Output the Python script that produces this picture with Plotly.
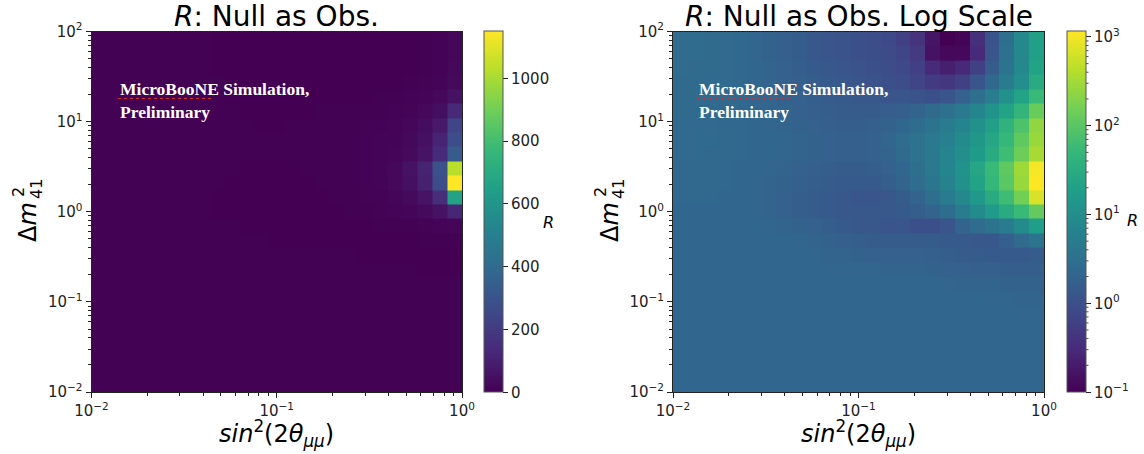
import numpy as np
import plotly.graph_objects as go

# bin edges (log-spaced grid, 25 x 25)
sin2_edges = np.logspace(-2, 0, 26)
dm2_edges = np.logspace(-2, 2, 26)

# R values, one list per dm2 row (bottom row first), 25 sin2 columns each
r00 = [2.2, 2.2, 2.2, 2.2, 2.2, 2.2, 2.2, 2.2, 2.2, 2.2, 2.2, 2.2, 2.2, 2.2, 2.2, 2.2, 2.2, 2.2, 2.2, 2.2, 2.2, 2.2, 2.2, 2.2, 2.2]
r01 = [2.2, 2.2, 2.2, 2.2, 2.2, 2.2, 2.2, 2.2, 2.2, 2.2, 2.2, 2.2, 2.2, 2.2, 2.2, 2.2, 2.2, 2.2, 2.2, 2.2, 2.2, 2.2, 2.2, 2.2, 2.2]
r02 = [2.2, 2.2, 2.2, 2.2, 2.2, 2.2, 2.2, 2.2, 2.2, 2.2, 2.2, 2.2, 2.2, 2.2, 2.2, 2.2, 2.2, 2.2, 2.2, 2.2, 2.2, 2.2, 2.2, 2.2, 2.2]
r03 = [2.2, 2.2, 2.2, 2.2, 2.2, 2.2, 2.2, 2.2, 2.2, 2.2, 2.2, 2.2, 2.2, 2.2, 2.2, 2.2, 2.2, 2.2, 2.2, 2.2, 2.2, 2.2, 2.2, 2.2, 2.2]
r04 = [2.2, 2.2, 2.2, 2.2, 2.2, 2.2, 2.2, 2.2, 2.2, 2.2, 2.2, 2.2, 2.2, 2.2, 2.2, 2.2, 2.2, 2.2, 2.2, 2.2, 2.2, 2.2, 2.2, 2.2, 2.2]
r05 = [2.2, 2.2, 2.2, 2.2, 2.2, 2.2, 2.2, 2.2, 2.2, 2.2, 2.2, 2.2, 2.2, 2.2, 2.2, 2.2, 2.2, 2.2, 2.2, 2.2, 2.2, 2.2, 2.2, 2.1, 2.1]
r06 = [2.2, 2.2, 2.2, 2.2, 2.2, 2.2, 2.2, 2.2, 2.2, 2.2, 2.2, 2.2, 2.2, 2.2, 2.2, 2.2, 2.2, 2.2, 2.2, 2.2, 2.2, 2.1, 2.1, 2.0, 2.0]
r07 = [2.2, 2.2, 2.2, 2.2, 2.2, 2.2, 2.2, 2.2, 2.2, 2.2, 2.2, 2.2, 2.2, 2.2, 2.2, 2.2, 2.2, 2.2, 2.1, 2.0, 2.0, 2.0, 1.9, 1.9, 1.9]
r08 = [2.2, 2.2, 2.2, 2.2, 2.2, 2.2, 2.2, 2.2, 2.2, 2.2, 2.1, 2.1, 2.1, 2.1, 2.0, 2.0, 2.0, 1.9, 1.8, 1.8, 1.7, 1.7, 1.6, 1.6, 1.6]
r09 = [2.2, 2.2, 2.2, 2.2, 2.2, 2.2, 2.2, 2.2, 2.2, 2.1, 2.0, 2.0, 1.9, 1.8, 1.8, 1.8, 1.8, 1.7, 1.6, 1.5, 1.5, 1.4, 1.4, 1.4, 1.5]
r10 = [2.2, 2.2, 2.2, 2.2, 2.2, 2.2, 2.2, 2.2, 2.1, 2.0, 1.9, 1.7, 1.6, 1.5, 1.5, 1.5, 1.5, 1.5, 1.4, 1.4, 1.3, 1.3, 1.7, 2.5, 3.7]
r11 = [2.2, 2.2, 2.2, 2.2, 2.2, 2.2, 2.1, 2.0, 1.9, 1.8, 1.6, 1.4, 1.3, 1.3, 1.2, 1.2, 1.0, 1.0, 1.2, 2.0, 2.6, 3.5, 5.0, 9.0, 18.0]
r12 = [2.2, 2.2, 2.2, 2.2, 2.2, 2.1, 2.0, 1.8, 1.6, 1.5, 1.4, 1.3, 1.3, 1.3, 1.3, 1.4, 1.6, 2.0, 2.8, 5.0, 9.0, 16.0, 30.0, 55.0, 120.0]
r13 = [2.3, 2.3, 2.3, 2.2, 2.2, 2.1, 2.0, 1.8, 1.6, 1.5, 1.4, 1.3, 1.2, 1.2, 1.3, 1.5, 2.0, 3.0, 5.0, 8.0, 15.0, 30.0, 60.0, 150.0, 660.0]
r14 = [2.3, 2.3, 2.3, 2.3, 2.2, 2.1, 2.0, 1.9, 1.7, 1.6, 1.5, 1.4, 1.4, 1.4, 1.6, 2.0, 2.7, 4.0, 6.5, 11.0, 22.0, 50.0, 100.0, 270.0, 1150.0]
r15 = [2.3, 2.3, 2.3, 2.3, 2.2, 2.2, 2.1, 2.0, 1.8, 1.7, 1.6, 1.5, 1.5, 1.6, 1.8, 2.2, 3.0, 4.5, 7.0, 12.0, 25.0, 55.0, 110.0, 290.0, 1030.0]
r16 = [2.4, 2.4, 2.3, 2.3, 2.3, 2.2, 2.2, 2.1, 2.0, 1.9, 1.8, 1.7, 1.7, 1.8, 2.0, 2.5, 3.3, 4.5, 7.0, 10.0, 17.0, 30.0, 60.0, 140.0, 330.0]
r17 = [2.4, 2.4, 2.4, 2.3, 2.3, 2.2, 2.2, 2.1, 2.0, 1.9, 1.8, 1.7, 1.7, 1.8, 2.1, 2.6, 3.4, 4.5, 6.0, 9.0, 14.0, 25.0, 50.0, 110.0, 270.0]
r18 = [2.4, 2.4, 2.4, 2.3, 2.3, 2.2, 2.1, 2.0, 1.9, 1.8, 1.7, 1.6, 1.6, 1.7, 1.9, 2.2, 2.8, 3.7, 5.0, 7.0, 11.0, 20.0, 40.0, 80.0, 240.0]
r19 = [2.5, 2.4, 2.4, 2.3, 2.3, 2.2, 2.1, 2.0, 1.8, 1.7, 1.6, 1.5, 1.5, 1.5, 1.6, 1.7, 2.0, 2.5, 3.2, 4.5, 7.0, 12.0, 22.0, 45.0, 130.0]
r20 = [2.5, 2.5, 2.4, 2.4, 2.3, 2.2, 2.1, 1.9, 1.8, 1.6, 1.5, 1.4, 1.3, 1.3, 1.2, 1.2, 1.1, 1.0, 1.2, 1.8, 3.0, 5.5, 11.0, 22.0, 55.0]
r21 = [2.5, 2.5, 2.4, 2.4, 2.3, 2.2, 2.0, 1.8, 1.7, 1.5, 1.4, 1.3, 1.2, 1.1, 1.0, 0.9, 0.7, 0.5, 0.45, 0.6, 1.2, 2.3, 5.0, 10.0, 30.0]
r22 = [2.6, 2.5, 2.5, 2.4, 2.3, 2.2, 2.0, 1.8, 1.6, 1.4, 1.3, 1.2, 1.1, 1.0, 0.9, 0.8, 0.6, 0.3, 0.22, 0.28, 0.6, 1.5, 3.5, 8.0, 22.0]
r23 = [2.6, 2.6, 2.5, 2.4, 2.3, 2.1, 1.9, 1.7, 1.5, 1.3, 1.2, 1.1, 1.0, 0.95, 0.85, 0.7, 0.5, 0.16, 0.12, 0.12, 0.3, 1.2, 3.2, 8.0, 20.0]
r24 = [2.6, 2.6, 2.5, 2.4, 2.3, 2.1, 1.9, 1.7, 1.5, 1.3, 1.2, 1.1, 1.0, 0.9, 0.8, 0.6, 0.4, 0.17, 0.1, 0.11, 0.35, 1.1, 3.0, 8.0, 20.0]

R_rows = [r00, r01, r02, r03, r04, r05, r06, r07, r08, r09, r10, r11, r12,
          r13, r14, r15, r16, r17, r18, r19, r20, r21, r22, r23, r24]

lin_ticks = [0, 200, 400, 600, 800, 1000]
log_ticks = [-1, 0, 1, 2, 3]
log_ticktext = ["10<sup>\u22121</sup>", "10<sup>0</sup>", "10<sup>1</sup>", "10<sup>2</sup>", "10<sup>3</sup>"]
x_tickvals = [0.01, 0.1, 1]
x_ticktext = ["10<sup>\u22122</sup>", "10<sup>\u22121</sup>", "10<sup>0</sup>"]
y_tickvals = [0.01, 0.1, 1, 10, 100]
y_ticktext = ["10<sup>\u22122</sup>", "10<sup>\u22121</sup>", "10<sup>0</sup>", "10<sup>1</sup>", "10<sup>2</sup>"]

Z = np.array(R_rows, dtype=float)
zmax = Z.max()

W, H = 1144, 454
FONT = "DejaVu Sans"

def px(x):
    return x / W

def py(y):
    return 1 - y / H

top, bot = 31.5, 392.0
L1, R1 = 91.5, 462.0
L2, R2 = 673.0, 1044.0
CB1, CB2, CBW = 483.5, 1066.5, 19

cb_common = dict(
    xanchor="left", xpad=0, ypad=0,
    y=py((top + bot) / 2), yanchor="middle",
    len=(bot - top) / H, lenmode="fraction",
    thickness=CBW, thicknessmode="pixels",
    outlinewidth=1, outlinecolor="#555555",
    ticks="outside", ticklen=5, tickwidth=1, tickcolor="#222222",
    tickfont=dict(family=FONT, size=15, color="#222222"),
)

fig = go.Figure()
fig.add_trace(go.Heatmap(
    x=sin2_edges, y=dm2_edges, z=Z, colorscale="Viridis",
    zmin=0, zmax=zmax, xaxis="x", yaxis="y",
    colorbar=dict(x=px(CB1), tickmode="array", tickvals=lin_ticks,
                  ticktext=[str(v) for v in lin_ticks], **cb_common),
    hovertemplate="sin2=%{x}<br>dm2=%{y}<br>R=%{z}<extra></extra>",
))
fig.add_trace(go.Heatmap(
    x=sin2_edges, y=dm2_edges, z=np.log10(Z), colorscale="Viridis",
    zmin=-1, zmax=np.log10(zmax), xaxis="x2", yaxis="y2",
    customdata=Z,
    colorbar=dict(x=px(CB2), tickmode="array", tickvals=log_ticks,
                  ticktext=log_ticktext, **cb_common),
    hovertemplate="sin2=%{x}<br>dm2=%{y}<br>R=%{customdata}<extra></extra>",
))

minor_x = [v * d for d in (0.01, 0.1) for v in range(2, 10)]
minor_y = [v * d for d in (0.01, 0.1, 1, 10) for v in range(2, 10)]

def ax_common(tickvals, ticktext, minor_vals):
    return dict(
        type="log", showgrid=False, zeroline=False, automargin=False,
        showline=True, mirror=True, linecolor="#222222", linewidth=1,
        ticks="outside", ticklen=5, tickwidth=1, tickcolor="#222222",
        tickmode="array", tickvals=tickvals, ticktext=ticktext,
        tickfont=dict(family=FONT, size=15, color="#222222"),
        minor=dict(tickmode="array", tickvals=minor_vals, ticks="outside",
                   ticklen=3, tickwidth=0.8, tickcolor="#222222", showgrid=False),
    )

fig.update_layout(
    width=W, height=H, margin=dict(l=0, r=0, t=0, b=0, autoexpand=False),
    paper_bgcolor="white", plot_bgcolor="white", showlegend=False,
    xaxis=dict(domain=[px(L1), px(R1)], range=[-2, 0], anchor="y",
               **ax_common(x_tickvals, x_ticktext, minor_x)),
    yaxis=dict(domain=[py(bot), py(top)], range=[-2, 2], anchor="x",
               **ax_common(y_tickvals, y_ticktext, minor_y)),
    xaxis2=dict(domain=[px(L2), px(R2)], range=[-2, 0], anchor="y2",
                **ax_common(x_tickvals, x_ticktext, minor_x)),
    yaxis2=dict(domain=[py(bot), py(top)], range=[-2, 2], anchor="x2",
                **ax_common(y_tickvals, y_ticktext, minor_y)),
)

ann = []
def add_text(x, y, text, size, **kw):
    d = dict(x=px(x), y=py(y), xref="paper", yref="paper", text=text,
             showarrow=False, font=dict(family=FONT, size=size, color="black"),
             xanchor="center", yanchor="middle")
    d.update(kw)
    ann.append(d)

# titles
add_text((L1 + R1) / 2, 16, "<i>R</i>: Null as Obs.", 28)
add_text((L2 + R2) / 2, 16, "<i>R</i>: Null as Obs. Log Scale", 28)
# x axis titles
xlab = "<i>sin</i><sup>2</sup>(2<i>\u03b8</i><sub><i>\u03bc\u03bc</i></sub>)"
add_text((L1 + R1) / 2, 433, xlab, 24)
add_text((L2 + R2) / 2, 433, xlab, 24)
# y axis titles: base "Δm" plus stacked super/subscripts
for xc in (28, 610):
    add_text(xc, 222, "\u0394<i>m</i>", 24, textangle=-90)
    add_text(xc - 9, 192, "2", 16, textangle=-90)
    add_text(xc + 8, 189, "41", 16, textangle=-90)
# colorbar labels
add_text(548, 222, "<i>R</i>", 16)
add_text(1132, 220, "<i>R</i>", 16)
# watermark text
wm = "MicroBooNE Simulation,<br>Preliminary"
for x0 in (118, 697):
    ann.append(dict(x=px(x0), y=py(77), xref="paper", yref="paper", text="<b>" + wm + "</b>",
                    showarrow=False, align="left", xanchor="left", yanchor="top",
                    font=dict(family="Liberation Serif", size=17.5, color="white")))
fig.update_layout(annotations=ann)

shapes = []
# red spell-check squiggle under "MicroBooNE"
for x0 in (118, 697):
    shapes.append(dict(type="line", xref="paper", yref="paper",
                       x0=px(x0), x1=px(x0 + 95), y0=py(98.5), y1=py(98.5),
                       line=dict(color="#d03030", width=1, dash="dot")))
# minor ticks on the log colorbar (positions from the colour scale)
lo, hi = -1.0, float(np.log10(zmax))
for k in (-1, 0, 1, 2):
    for m in range(2, 10):
        v = k + np.log10(m)
        if v > hi:
            continue
        yy = bot - (v - lo) / (hi - lo) * (bot - top)
        shapes.append(dict(type="line", xref="paper", yref="paper",
                           x0=px(CB2 + CBW), x1=px(CB2 + CBW + 3), y0=py(yy), y1=py(yy),
                           line=dict(color="#222222", width=0.8)))
fig.update_layout(shapes=shapes)

fig.write_html("out.html")
